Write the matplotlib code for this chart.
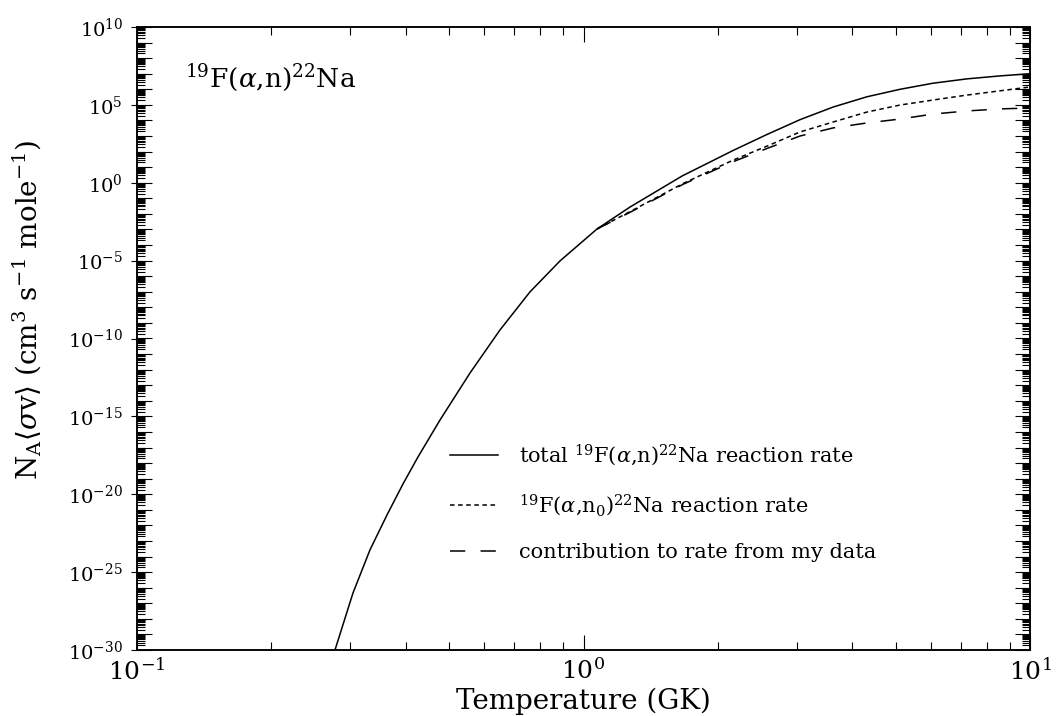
import matplotlib
matplotlib.use("Agg")
import matplotlib.pyplot as plt
import numpy as np
from matplotlib.ticker import FixedLocator, NullFormatter, FuncFormatter

plt.rcParams['font.family'] = ['DejaVu Serif']
plt.rcParams['mathtext.fontset'] = 'dejavuserif'

# %% data (temperature in GK, log10 of rate)
t_total = [0.2776, 0.3046, 0.3324, 0.3630, 0.3942, 0.4258, 0.4772, 0.5568, 0.6501,
           0.7587, 0.8858, 1.072, 1.271, 1.662, 2.162, 2.576, 3.054, 3.622,
           4.314, 5.115, 6.063, 7.225, 8.567, 10.0]
lr_total = [-30.0, -26.34, -23.58, -21.33, -19.34, -17.61, -15.23, -12.22, -9.45,
            -7.01, -5.02, -2.97, -1.56, 0.43, 2.07, 3.10, 4.05, 4.86,
            5.52, 6.00, 6.39, 6.67, 6.86, 7.00]

t_n0 = [1.072, 1.291, 1.671, 2.162, 2.576, 3.054, 3.622, 4.314, 5.115, 6.063, 7.225, 10.0]
lr_n0 = [-2.97, -1.75, -0.05, 1.45, 2.35, 3.26, 3.90, 4.54, 4.99, 5.31, 5.63, 6.15]

t_mine = [1.072, 1.291, 1.671, 2.162, 2.576, 3.054, 3.622, 4.314, 5.115, 6.063, 7.225,
          8.567, 10.0]
lr_mine = [-2.97, -1.80, -0.10, 1.35, 2.20, 3.00, 3.52, 3.84, 4.09, 4.41, 4.61, 4.74, 4.80]

labels = [r'total $^{19}$F($\alpha$,n)$^{22}$Na reaction rate',
          r'$^{19}$F($\alpha$,n$_0$)$^{22}$Na reaction rate',
          'contribution to rate from my data']

# %% plot
fig = plt.figure(figsize=(10.58, 7.16), dpi=100)
ax = fig.add_axes([137 / 1058, 1 - 650 / 716, 893 / 1058, 623 / 716])

lw = 1.1
ax.plot(t_total, 10.0 ** np.array(lr_total), color='black', lw=lw, label=labels[0])
ax.plot(t_n0, 10.0 ** np.array(lr_n0), color='black', lw=lw, linestyle=(0, (3, 2.3)), label=labels[1])
ax.plot(t_mine, 10.0 ** np.array(lr_mine), color='black', lw=lw, linestyle=(0, (10, 10)), label=labels[2])

ax.set_xscale('log')
ax.set_yscale('log')
ax.set_xlim(0.1, 10)
ax.set_ylim(1e-30, 1e10)

for s in ax.spines.values():
    s.set_linewidth(1.1)

# x ticks: decades + 2..9 subdivisions, inward on top and bottom
ax.xaxis.set_major_locator(FixedLocator([0.1, 1, 10]))
ax.xaxis.set_minor_locator(FixedLocator([m * 10.0 ** e for e in (-1, 0) for m in range(2, 10)]))
ax.xaxis.set_minor_formatter(NullFormatter())
ax.tick_params(axis='x', which='major', direction='in', length=11, width=0.8,
               top=True, bottom=True, labelsize=18, pad=6)
ax.tick_params(axis='x', which='minor', direction='in', length=6, width=0.8,
               top=True, bottom=True)

# y labels every 5 decades, with a short outward stub
ax.yaxis.set_major_locator(FixedLocator([10.0 ** e for e in range(-30, 11, 5)]))
ax.yaxis.set_minor_locator(FixedLocator([]))
ax.yaxis.set_major_formatter(FuncFormatter(lambda v, p: r'$10^{%d}$' % round(np.log10(v))))
ax.tick_params(axis='y', which='major', direction='out', length=4, width=0.8,
               left=True, right=False, labelsize=14, pad=6)

# dense y ticks on both sides via a twin axis
ax2 = ax.twinx()
ax2.set_yscale('log')
ax2.set_ylim(1e-30, 1e10)
ax2.yaxis.set_major_locator(FixedLocator([10.0 ** e for e in range(-30, 11)]))
ax2.yaxis.set_minor_locator(FixedLocator([m * 10.0 ** e for e in range(-30, 10) for m in range(2, 10)]))
ax2.yaxis.set_major_formatter(NullFormatter())
ax2.yaxis.set_minor_formatter(NullFormatter())
ax2.tick_params(axis='y', which='major', direction='in', length=11, width=0.8,
                left=True, right=True, labelleft=False, labelright=False)
ax2.tick_params(axis='y', which='minor', direction='in', length=6, width=0.8,
                left=True, right=True, labelleft=False, labelright=False)
for s in ax2.spines.values():
    s.set_linewidth(1.1)

ax.text(185 / 1058, 1 - 78 / 716, r'$^{19}$F($\alpha$,n)$^{22}$Na', transform=fig.transFigure,
        fontsize=19, ha='left', va='center')

leg = ax.legend(loc='upper left', bbox_to_anchor=((450 - 137) / 893, (650 - 442) / 623),
                frameon=False, fontsize=15, handlelength=2.3, handletextpad=1.0,
                labelspacing=1.2, borderpad=0, borderaxespad=0)

fig.text(583 / 1058, 1 - 701 / 716, 'Temperature (GK)', fontsize=20, ha='center', va='center')
fig.text(27 / 1058, 1 - 310 / 716,
         r'N$_\mathregular{A}$$\langle\sigma$v$\rangle$ (cm$^3$ s$^{-1}$ mole$^{-1}$)',
         fontsize=20, ha='center', va='center', rotation=90)

fig.savefig('out.png', dpi=100)
